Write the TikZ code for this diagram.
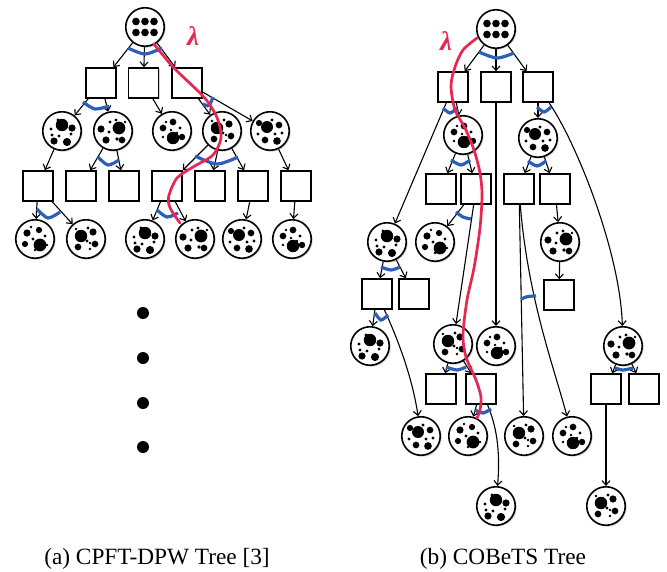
\documentclass[tikz,border=0pt]{standalone}
\usepackage{fontspec}
\setmainfont{Liberation Serif}
\usetikzlibrary{arrows.meta,shadows}
\definecolor{arcblue}{RGB}{45,95,185}
\definecolor{lamred}{RGB}{232,38,82}
\def\ptnA{0/-6/5.2, 10/-3/3, -11/-2/1.3, -10/4/1.3, -3/5/1.3, 9/3/1.3, -8/10/3, 5/11/3.4, -4/-11/1.3}
\def\ptnB{6/-3/5.3, -12/-2/3, -3/-9/1.3, 3/-11/1.3, -4/1/1.3, -7/9/3, 4/8/1.5, 9/9/2.8, 12/-9/1.2}
\def\ptnC{1/7/5.2, 1/-9/2.8, -9/-3/2.8, 8/-3/1.4, -1/-1/1.2, -9/6/1.2, 10/6/2.7, -6/-9/1.2, 5/2/1.2}
\def\ptnD{-5/-3/5.2, 7/-7/3, -8/8/2.8, 9/5/2.8, 2/-11/1.3, 1/2/1.3, -10/-10/1.2, 4/10/1.2, 4/4/1.2}
\def\ptnE{-3/-4/5, 9/-6/2.8, -11/-8/2.6, 2/-11/1.3, -12/3/1.3, 5/3/1.3, -5/9/2.8, 7/10/3.2, 12/2/1.3}
\def\ptnF{5/6/5.3, -8/-6/3, 4/-9/2.6, -10/5/2.6, 10/-3/1.3, -2/0/1.3, 0/11/1.2, -4/-12/1.2, 12/6/1.2}
\def\ptnR{-9/-5.5/3.2, 0/-5.5/3.2, 9/-5.5/3.2, -9/5.5/3.2, 0/5.5/3.2, 9/5.5/3.2}
\newcommand\spots[2]{\foreach \dx/\dy/\rr in #2 {\fill ([shift={(\dx,\dy)}]#1) circle[radius={1.2*\rr*1pt}];}}
\begin{document}
\begin{tikzpicture}[x=1pt,y=-1pt,
  shad/.style={drop shadow={shadow xshift=1.4pt,shadow yshift=-1.4pt,opacity=0.35,fill=gray}},
  circ/.style={circle,draw,line width=1.6pt,minimum size=38.5pt,inner sep=0pt,fill=white,shad},
  sq/.style={rectangle,draw,line width=1.6pt,minimum size=30pt,inner sep=0pt,fill=white,shad},
  arr/.style={-{Straight Barb[length=4.5pt,width=8pt]},line width=1.1pt},
  barc/.style={draw=arcblue,line width=3.2pt},
  redl/.style={draw=lamred,line width=2.7pt,line cap=round,line join=round},
  lam/.style={text=lamred,font=\fontsize{27}{28}\selectfont\bfseries\itshape,inner sep=0pt},
  captext/.style={font=\fontsize{23.3}{26}\selectfont,inner sep=0pt,anchor=base}
]
\useasboundingbox (0,0) rectangle (667,571);

% ---------------- left tree ----------------
\node[circ] (Lr) at (145,27) {};
\node[sq] (Ls1) at (101,83) {};
\node[sq] (Ls2) at (143.5,83) {};
\node[sq] (Ls3) at (187,83) {};
\node[circ] (Lc1) at (62,131) {};
\node[circ] (Lc2) at (113,131) {};
\node[circ] (Lc3) at (172,131) {};
\node[circ] (Lc4) at (222,131) {};
\node[circ] (Lc5) at (270,131) {};
\node[sq] (Lt1) at (38,186) {};
\node[sq] (Lt2) at (81,186) {};
\node[sq] (Lt3) at (124,186) {};
\node[sq] (Lt4) at (167,186) {};
\node[sq] (Lt5) at (210,186) {};
\node[sq] (Lt6) at (253,186) {};
\node[sq] (Lt7) at (296,186) {};
\node[circ] (Ld1) at (35,239) {};
\node[circ] (Ld2) at (86,239) {};
\node[circ] (Ld3) at (145,239) {};
\node[circ] (Ld4) at (195,239) {};
\node[circ] (Ld5) at (242,239) {};
\node[circ] (Ld6) at (292,239) {};

\spots{Lr}{\ptnR}
\spots{Lc1}{\ptnA}\spots{Lc2}{\ptnB}\spots{Lc3}{\ptnC}\spots{Lc4}{\ptnD}\spots{Lc5}{\ptnE}
\spots{Ld1}{\ptnF}\spots{Ld2}{\ptnD}\spots{Ld3}{\ptnA}\spots{Ld4}{\ptnB}\spots{Ld5}{\ptnE}\spots{Ld6}{\ptnC}

\foreach \a/\b in {Lr/Ls1,Lr/Ls2,Lr/Ls3,Ls1/Lc1,Ls1/Lc2,Ls2/Lc3,Ls3/Lc4,Ls3/Lc5,
  Lc1/Lt1,Lc2/Lt2,Lc2/Lt3,Lc4/Lt4,Lc4/Lt5,Lc4/Lt6,Lc5/Lt7,
  Lt1/Ld1,Lt1/Ld2,Lt4/Ld3,Lt4/Ld4,Lt6/Ld5,Lt7/Ld6}
  \draw[arr] (\a) -- (\b);

\draw[barc] plot[smooth] coordinates {(128,48) (145,54) (162,48)};
\draw[barc] plot[smooth] coordinates {(83,102) (95,109) (109,106)};
\draw[barc] plot[smooth] coordinates {(203,104) (209,105.5) (213,97)};
\draw[barc] plot[smooth] coordinates {(98,157) (108,165) (119,160)};
\draw[barc] plot[smooth] coordinates {(195,156) (217,164) (238,157)};
\draw[barc] plot[smooth] coordinates {(37,209) (48,218) (60,212)};
\draw[barc] plot[smooth] coordinates {(157,210) (167,217) (178,213)};

\draw[redl] plot[smooth] coordinates {(154,44) (173,67) (200,93) (210,105) (218,120) (221,138) (213,155) (193,167) (177,178) (169,195) (169,205) (173,213) (180,223)};
\node[lam] (Llam) at (193,36) {λ};

\foreach \yy in {313,358,403,447}
  \fill (143,\yy) circle[radius=6pt];

% ---------------- right tree ----------------
\node[circ] (Rr) at (496,29) {};
\node[sq] (RA) at (453,87) {};
\node[sq] (RB) at (496,87) {};
\node[sq] (RC) at (538,87) {};
\node[circ] (Rc1) at (463,135) {};
\node[circ] (Rc2) at (538,138) {};
\node[sq] (Rt1) at (441,189) {};
\node[sq] (Rt2) at (476,189) {};
\node[sq] (Rt3) at (519,189) {};
\node[sq] (Rt4) at (555,189) {};
\node[circ] (Rc3) at (387,242) {};
\node[circ] (Rc4) at (435,242) {};
\node[circ] (Rc5) at (560,242) {};
\node[sq] (Rs5) at (559,295) {};
\node[sq] (Ru1) at (377,294) {};
\node[sq] (Ru2) at (414,294) {};
\node[circ] (Rc6) at (370,346) {};
\node[circ] (Rc7) at (453,344) {};
\node[circ] (Rc8) at (496,346) {};
\node[circ] (Rc9) at (623,346) {};
\node[sq] (Rv1) at (441,389) {};
\node[sq] (Rv2) at (481,389) {};
\node[sq] (Rv3) at (606,389) {};
\node[sq] (Rv4) at (644,389) {};
\node[circ] (Rd1) at (421,436) {};
\node[circ] (Rd2) at (468,436) {};
\node[circ] (Rd3) at (524,436) {};
\node[circ] (Rd4) at (572,436) {};
\node[circ] (Re1) at (496,506) {};
\node[circ] (Re2) at (606,506) {};

\spots{Rr}{\ptnR}
\spots{Rc1}{\ptnC}\spots{Rc2}{\ptnE}\spots{Rc3}{\ptnA}\spots{Rc4}{\ptnF}\spots{Rc5}{\ptnB}
\spots{Rc6}{\ptnA}\spots{Rc7}{\ptnD}\spots{Rc8}{\ptnC}\spots{Rc9}{\ptnB}
\spots{Rd1}{\ptnE}\spots{Rd2}{\ptnF}\spots{Rd3}{\ptnD}\spots{Rd4}{\ptnC}
\spots{Re1}{\ptnA}\spots{Re2}{\ptnD}

\foreach \a/\b in {Rr/RA,Rr/RB,Rr/RC,RA/Rc1,RA/Rc3,RB/Rc8,RC/Rc2,
  Rc1/Rt1,Rc1/Rt2,Rc2/Rt3,Rc2/Rt4,Rt2/Rc4,Rt2/Rc7,Rt3/Rd3,Rt4/Rc5,Rc5/Rs5,
  Rc3/Ru1,Rc3/Ru2,Ru1/Rc6,Rc7/Rv1,Rc7/Rv2,Rv2/Rd2,Rc9/Rv3,Rc9/Rv4,Rv3/Re2}
  \draw[arr] (\a) -- (\b);
\draw[arr] (RC) .. controls (575,140) and (620,250) .. (Rc9);
\draw[arr] (Rt3) .. controls (528,300) and (555,370) .. (Rd4);
\draw[arr] (Ru1) .. controls (396,335) and (412,375) .. (Rd1);
\draw[arr] (Rv2) .. controls (498,430) and (500,455) .. (Re1);

\draw[barc] plot[smooth] coordinates {(479,52) (497,58) (514,53)};
\draw[barc] plot[smooth] coordinates {(443,108) (450,113) (457,108)};
\draw[barc] plot[smooth] coordinates {(537,107) (544,112) (551,107)};
\draw[barc] plot[smooth] coordinates {(451,160) (461,165) (470,160)};
\draw[barc] plot[smooth] coordinates {(528,161) (537,166) (546,161)};
\draw[barc] plot[smooth] coordinates {(456,212) (463,217) (471,219)};
\draw[barc] plot[smooth] coordinates {(521,299) (528,296.5) (536,296)};
\draw[barc] plot[smooth] coordinates {(381,267) (391,270) (400,267)};
\draw[barc] plot[smooth] coordinates {(375,313) (381,320) (388,315)};
\draw[barc] plot[smooth] coordinates {(446,367) (457,370) (466,367)};
\draw[barc] plot[smooth] coordinates {(475,410) (483,413) (491,409)};
\draw[barc] plot[smooth] coordinates {(615,368) (623,370) (633,368)};

\draw[redl] plot[smooth] coordinates {(477,38) (463,50) (455,67) (451,86) (455,110) (465,128) (474,150) (480,173) (482,195) (480,228) (474,268) (467,300) (463,335) (466,357) (476,380) (481,397) (480,410) (477,418)};
\node[lam] (Rlam) at (446,41) {λ};

% ---------------- captions ----------------
\node[captext] (capa) at (157,564) {(a) CPFT-DPW Tree [3]};
\node[captext] (capb) at (503,564) {(b) COBeTS Tree};
\end{tikzpicture}
\end{document}
